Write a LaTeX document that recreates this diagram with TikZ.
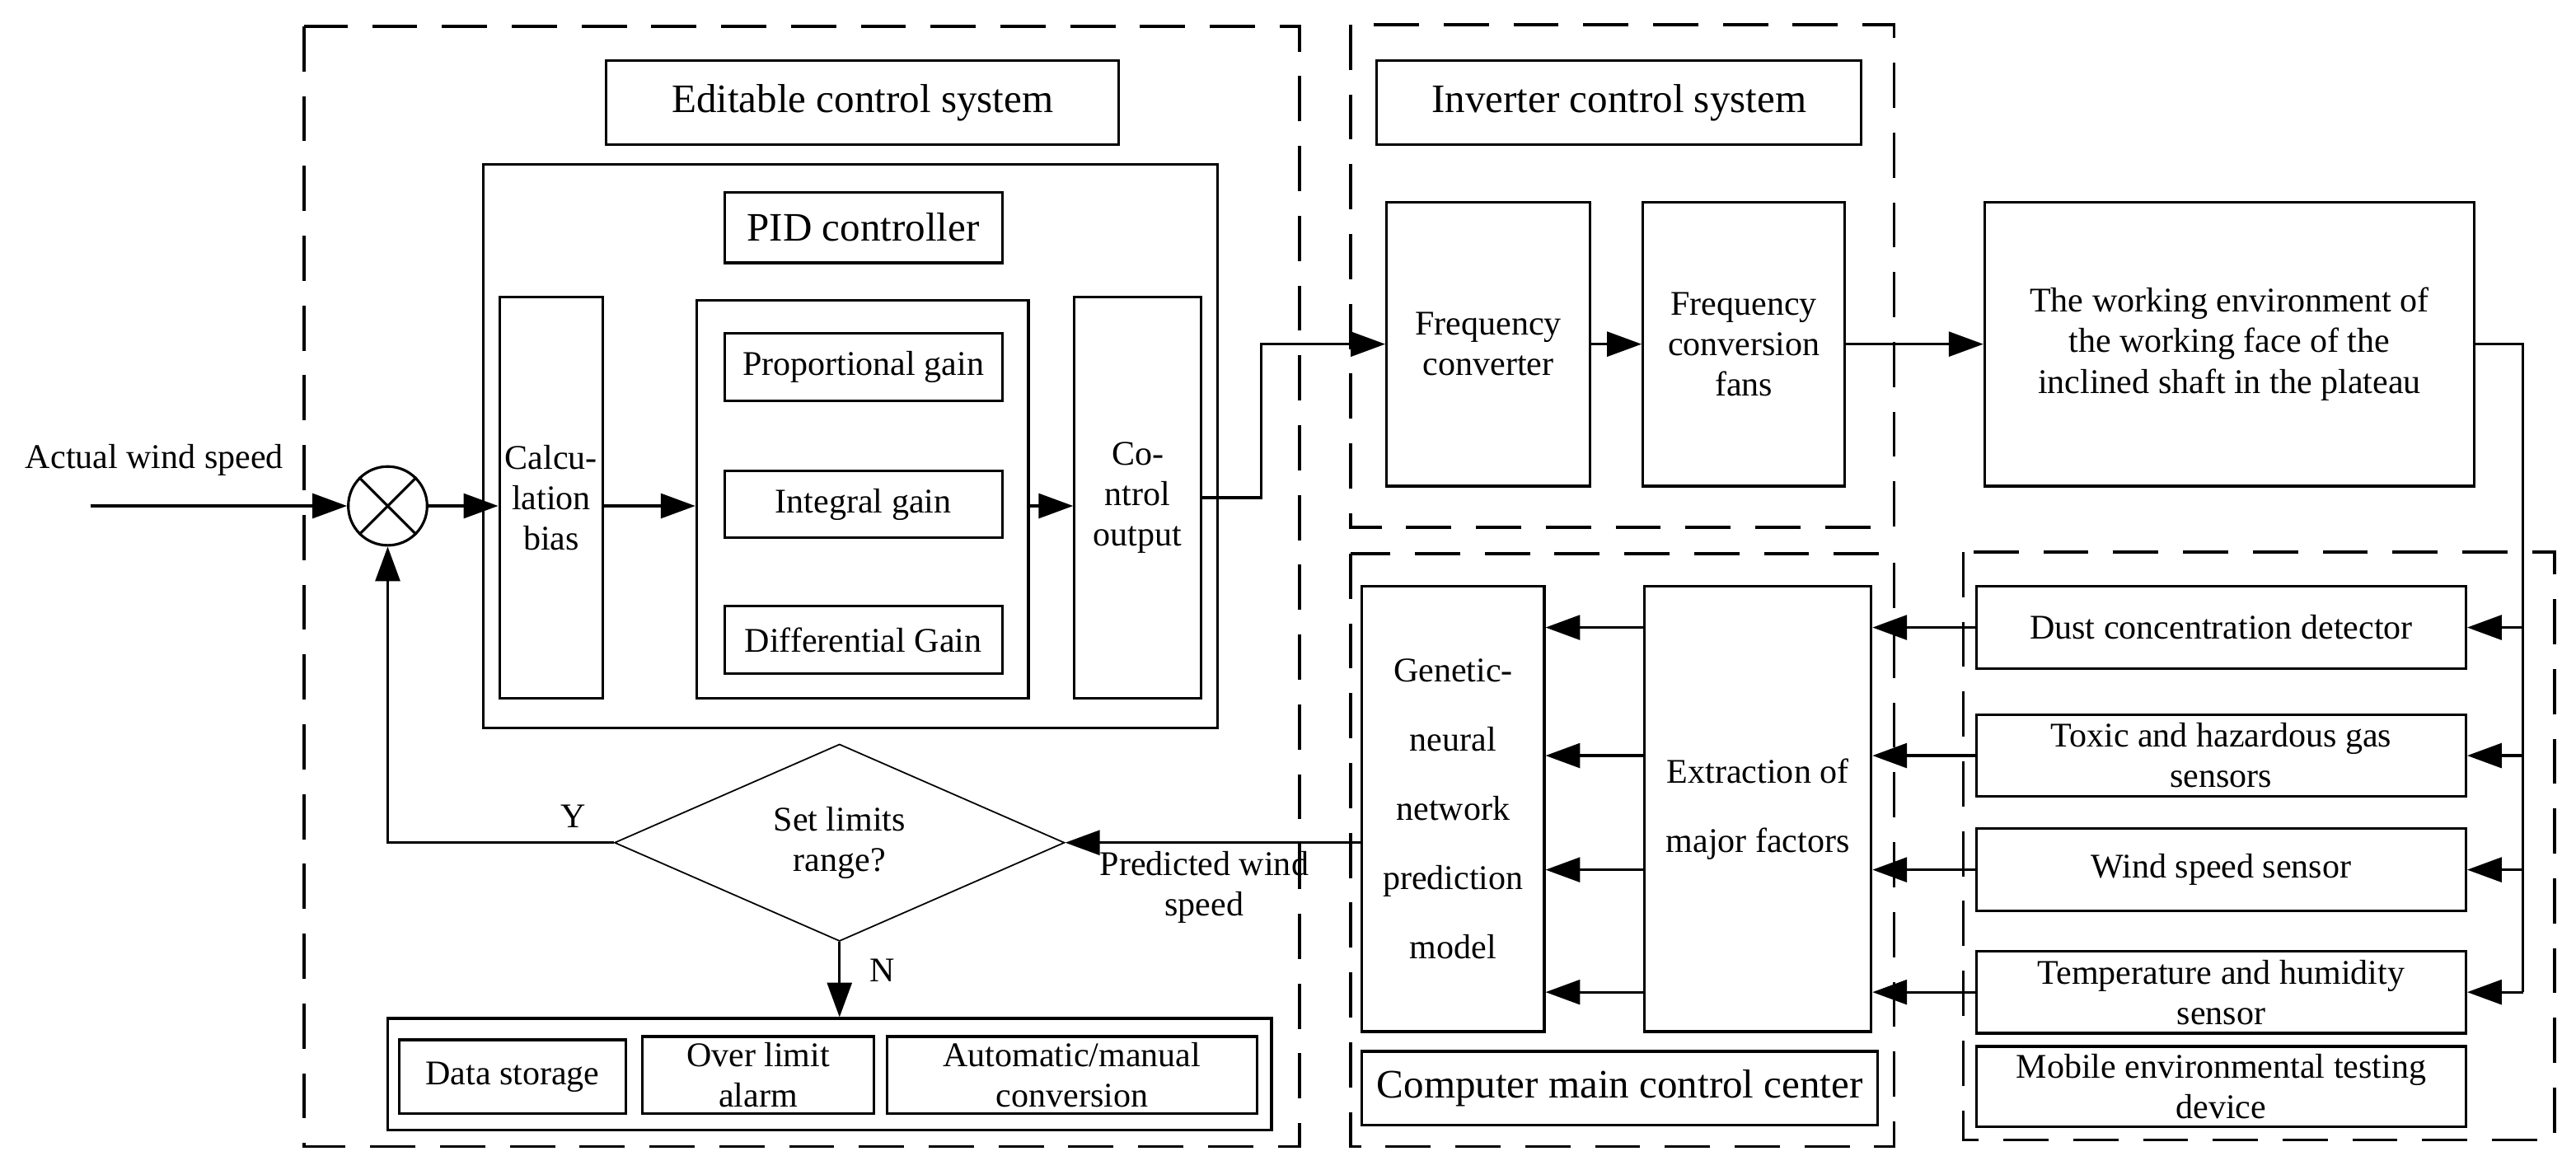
\documentclass[tikz,border=0pt]{standalone}
\usepackage{fontspec}
\setmainfont{Liberation Serif}
\usetikzlibrary{
	arrows.meta,
	calc,
	shapes.geometric,
	positioning
}

\begin{document}
\begin{tikzpicture}[
			x=0.02cm, y=-0.02cm,
			box/.style={
				rectangle,
				draw,
				line width=0.9pt,
				align=center,
				inner sep=1pt,
				font=\fontsize{12}{14}\selectfont
			},
			head/.style={
				box,
				font=\fontsize{14}{16}\selectfont
			},
			tall/.style={
				box,
				font=\fontsize{12}{24}\selectfont
			},
			decision/.style={
				diamond,
				draw,
				line width=0.5pt,
				aspect=2.28,
				minimum width=5.48cm,
				minimum height=2.4cm,
				inner sep=0pt,
				align=center,
				font=\fontsize{12}{14}\selectfont
			},
			group/.style={
				draw,
				line width=1pt,
				dash pattern=on 5.5mm off 3mm
			},
			lbl/.style={
				align=center,
				inner sep=1pt,
				font=\fontsize{12}{14}\selectfont
			},
			arr/.style={
				line width=0.9pt,
				-{Triangle[length=4.2mm, width=3mm]}
			}
			]
			
			\useasboundingbox (0,0) rectangle (1568,712);
			
			% dashed subsystems
			\draw[group] (185,16) rectangle (791,698);
			\draw[group] (822,15) rectangle (1153,321);
			\draw[group] (822,337) rectangle (1153,698);
			\draw[group] (1195,336) rectangle (1555,694);
			
			% editable control system
			\node[head, minimum width=6.24cm, minimum height=1.02cm] (edit) at (525,62.5) {Editable control system};
			\node[box, minimum width=8.94cm, minimum height=6.86cm] (pid) at (517.5,271.5) {};
			\node[head, minimum width=3.38cm, minimum height=0.86cm] (pidhead) at (525.5,138.5) {PID controller};
			\node[box, minimum width=1.26cm, minimum height=4.88cm] (calc) at (335.5,303) {Calcu-\\lation\\bias};
			\node[box, minimum width=4.04cm, minimum height=4.84cm] (gains) at (525,304) {};
			\node[box, minimum width=3.38cm, minimum height=0.82cm] (prop) at (525.5,223.5) {Proportional gain};
			\node[box, minimum width=3.38cm, minimum height=0.82cm] (integ) at (525.5,307) {Integral gain};
			\node[box, minimum width=3.38cm, minimum height=0.82cm] (diff) at (525.5,389.5) {Differential Gain};
			\node[box, minimum width=1.54cm, minimum height=4.88cm] (ctrl) at (692.5,303) {Co-\\ntrol\\output};
			
			\node[draw, circle, line width=0.9pt, minimum size=0.96cm, inner sep=0pt] (sum) at (236,308) {};
			\draw[line width=0.9pt] (sum.north east) -- (sum.south west) (sum.north west) -- (sum.south east);
			\node[lbl] (inlab) at (94,280) {Actual wind speed};
			\coordinate (in) at (55,308);
			
			\node[decision] (dia) at (511,513) {Set limits\\range?};
			\node[lbl] (ylab) at (349,497) {Y};
			\node[lbl] (nlab) at (537,591) {N};
			\node[lbl] (pred) at (733,540) {Predicted wind\\speed};
			
			\node[box, minimum width=10.76cm, minimum height=1.36cm] (bot) at (505,654) {};
			\node[box, minimum width=2.76cm, minimum height=0.9cm] (store) at (312,655.5) {Data storage};
			\node[box, minimum width=2.82cm, minimum height=0.94cm] (alarm) at (461.5,654.5) {Over limit\\alarm};
			\node[box, minimum width=4.5cm, minimum height=0.94cm] (auto) at (652.5,654.5) {Automatic/manual\\conversion};
			
			% inverter control system
			\node[head, minimum width=5.9cm, minimum height=1.02cm] (inv) at (985.5,62.5) {Inverter control system};
			\node[box, minimum width=2.48cm, minimum height=3.46cm] (freq) at (906,209.5) {Frequency\\converter};
			\node[box, minimum width=2.46cm, minimum height=3.46cm] (fans) at (1061.5,209.5) {Frequency\\conversion\\fans};
			\node[box, minimum width=5.96cm, minimum height=3.46cm] (work) at (1357,209.5) {The working environment of\\the working face of the\\inclined shaft in the plateau};
			
			% computer main control center
			\node[tall, minimum width=2.22cm, minimum height=5.42cm] (gen) at (884.5,492.5) {Genetic-\\neural\\network\\prediction\\model};
			\node[tall, minimum width=2.76cm, minimum height=5.42cm] (ext) at (1070,492.5) {Extraction of\\major factors};
			\node[head, minimum width=6.28cm, minimum height=0.9cm] (comp) at (986,662.5) {Computer main control center};
			
			% mobile environmental testing device
			\node[box, minimum width=5.96cm, minimum height=1cm] (dust) at (1352,382) {Dust concentration detector};
			\node[box, minimum width=5.96cm, minimum height=1cm] (toxic) at (1352,460) {Toxic and hazardous gas\\sensors};
			\node[box, minimum width=5.96cm, minimum height=1cm] (wind) at (1352,529.5) {Wind speed sensor};
			\node[box, minimum width=5.96cm, minimum height=1cm] (temp) at (1352,604) {Temperature and humidity\\sensor};
			\node[box, minimum width=5.96cm, minimum height=0.98cm] (mobile) at (1352,661.5) {Mobile environmental testing\\device};
			
			% connectors
			\draw[arr] (in) -- (sum.west);
			\draw[arr] (sum.east) -- (calc.west |- sum.east);
			\draw[arr] (calc.east |- sum.east) -- (gains.west |- sum.east);
			\draw[arr] (gains.east |- sum.east) -- (ctrl.west |- sum.east);
			\draw[arr] (ctrl.east) -- ++(36,0) |- (freq.west);
			\draw[arr] (freq) -- (fans);
			\draw[arr] (fans) -- (work);
			\draw[line width=0.9pt] (work.east) -- ++(29,0) coordinate (wr) -- (wr |- temp.east);
			\foreach \s in {dust, toxic, wind, temp} {
				\draw[arr] (wr |- \s.east) -- (\s.east);
				\draw[arr] (\s.west) -- (ext.east |- \s.west);
				\draw[arr] (ext.west |- \s.west) -- (gen.east |- \s.west);
			}
			\draw[arr] (gen.west |- dia.east) -- (dia.east);
			\draw[arr] (dia.west) -| (sum.south);
			\draw[arr] (dia.south) -- (dia.south |- bot.north);
			
		\end{tikzpicture}
\end{document}
